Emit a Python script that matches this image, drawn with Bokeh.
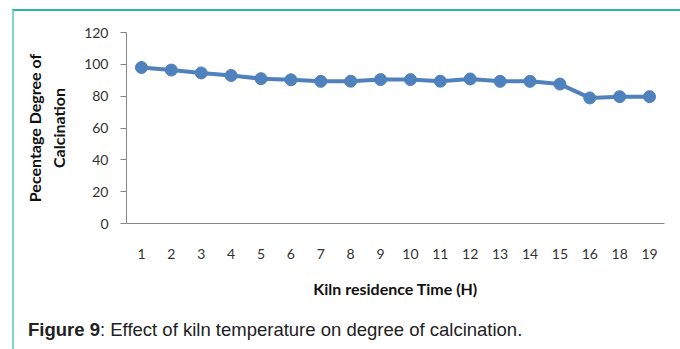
from bokeh.plotting import figure
from bokeh.layouts import column
from bokeh.models import Range1d, FactorRange, FixedTicker, ColumnDataSource, LinearAxis, Div
from bokeh.embed import file_html
from bokeh.resources import INLINE

categories = ["1", "2", "3", "4", "5", "6", "7", "8", "9", "10", "11", "12", "13", "14", "15", "16", "18", "19"]
calcination = [98, 96.4, 94.6, 93, 91, 90.3, 89.3, 89.4, 90.4, 90.4, 89.4, 90.8, 89.3, 89.3, 87.6, 78.9, 79.7, 79.7]
y_ticks = [0, 20, 40, 60, 80, 100, 120]

# page geometry: border box starts at (12, 9), 2px border -> content origin (14, 11)
OX, OY = 14, 11
FL, FR, FT, FB = 126 - OX, 664 - OX, 32 - OY, 224 - OY
W, H = 660, 289

p = figure(width=W, height=H, output_backend="svg", toolbar_location=None,
           x_range=FactorRange(*categories, range_padding=0), y_range=Range1d(0, 120),
           min_border_left=FL, min_border_right=W - FR, min_border_top=FT, min_border_bottom=H - FB)
p.outline_line_color = None
p.xgrid.visible = False
p.ygrid.visible = False
p.background_fill_color = "white"
p.border_fill_color = "white"

src = ColumnDataSource(dict(x=categories, y=calcination))
p.line("x", "y", source=src, line_color="#4f81bd", line_width=4)
p.scatter("x", "y", source=src, size=12, fill_color="#4f81bd", line_color="#4f81bd")

TICK_FONT = "Lato"
ya = p.yaxis[0]
ya.ticker = FixedTicker(ticks=y_ticks)
ya.axis_line_color = "#868686"
ya.major_tick_line_color = "#868686"
ya.major_tick_out = 6
ya.major_tick_in = 0
ya.minor_tick_line_color = None
ya.major_label_standoff = 12
ya.major_label_text_font = TICK_FONT
ya.major_label_text_font_size = "14px"
ya.major_label_text_color = "#333333"
ya.axis_label = "Calcination"
ya.axis_label_text_font = "Lato"
ya.axis_label_text_font_style = "bold"
ya.axis_label_text_font_size = "16px"
ya.axis_label_text_color = "#111111"
ya.axis_label_standoff = 13

outer = LinearAxis(ticker=FixedTicker(ticks=[]), axis_line_color=None, major_tick_line_color=None,
                   minor_tick_line_color=None, axis_label="Pecentage Degree of",
                   axis_label_text_font="Lato", axis_label_text_font_style="bold",
                   axis_label_text_font_size="16px", axis_label_text_color="#111111",
                   axis_label_standoff=3, major_tick_out=0, major_tick_in=0)
p.add_layout(outer, "left")

xa = p.xaxis[0]
xa.axis_line_color = "#868686"
xa.major_tick_line_color = None
xa.major_tick_out = 0
xa.major_tick_in = 0
xa.minor_tick_line_color = None
xa.major_label_standoff = 25
xa.major_label_text_font = TICK_FONT
xa.major_label_text_font_size = "14px"
xa.major_label_text_color = "#333333"
xa.axis_label = "Kiln residence Time (H)"
xa.axis_label_text_font = "Lato"
xa.axis_label_text_font_style = "bold"
xa.axis_label_text_font_size = "16px"
xa.axis_label_text_color = "#111111"
xa.axis_label_standoff = 17

caption = Div(text="<b>Figure 9</b>: Effect of kiln temperature on degree of calcination.",
              width=W, height=40,
              styles={"font-family": "'Liberation Sans', Arial, sans-serif", "font-size": "18.5px",
                      "color": "#222222", "padding-left": "9px", "padding-top": "12px",
                      "box-sizing": "border-box", "background": "white"})

layout = column(p, caption, spacing=0, margin=(9, 0, 0, 12),
                styles={"border-top": "2px solid #2bb59a", "border-left": "2px solid #7fd6c4",
                        "border-right": "2px solid #3ec4a6", "background": "white"})

open("out.html", "w").write(file_html(layout, INLINE))
